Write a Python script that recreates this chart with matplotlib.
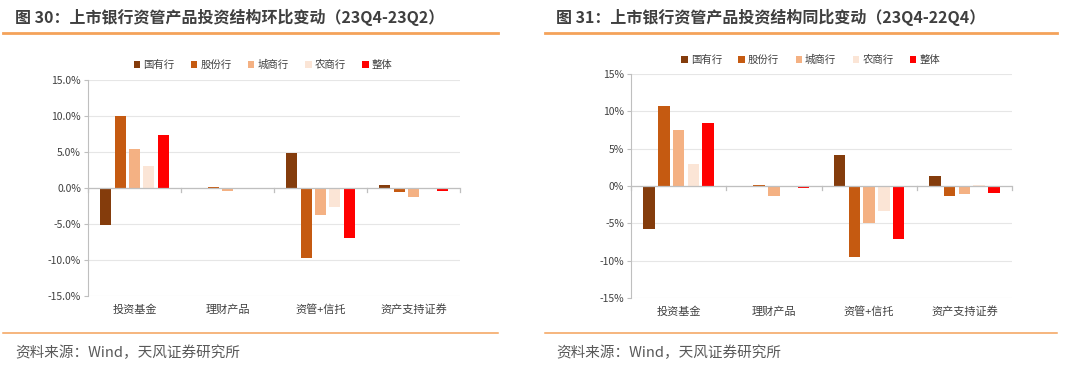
import numpy as np
import matplotlib.pyplot as plt
from matplotlib.ticker import FuncFormatter

plt.rcParams['font.family'] = ['Noto Sans CJK SC', 'DejaVu Sans']

# 数据
categories = ['投资基金', '理财产品', '资管+信托', '资产支持证券']
series = ['国有行', '股份行', '城商行', '农商行', '整体']
colors = ['#843C0C', '#C55A11', '#F4B183', '#FBE5D6', '#FF0000']

# 图30 环比 (23Q4-23Q2), %
qoq = {
    '国有行': [-5.1, 0.0, 4.8, 0.4],
    '股份行': [10.0, 0.1, -9.7, -0.5],
    '城商行': [5.4, -0.4, -3.7, -1.2],
    '农商行': [3.0, 0.0, -2.7, -0.2],
    '整体': [7.3, 0.0, -6.9, -0.4],
}
# 图31 同比 (23Q4-22Q4), %
yoy = {
    '国有行': [-5.7, 0.0, 4.2, 1.4],
    '股份行': [10.7, 0.2, -9.5, -1.3],
    '城商行': [7.5, -1.4, -5.0, -1.1],
    '农商行': [3.0, 0.0, -3.4, 0.2],
    '整体': [8.4, -0.3, -7.1, -1.0],
}

fig = plt.figure(figsize=(10.8, 3.72), dpi=100)

title_color = '#3F3F3F'
line_color = '#F4A25A'


def draw_panel(rect, data, fmt, legend_y, title, x0, x1, tx):
    ax = fig.add_axes(rect)
    x = np.arange(len(categories))
    step, w = 0.155, 0.12
    for i, s in enumerate(series):
        ax.bar(x + (i - 2) * step, data[s], width=w, color=colors[i], label=s, zorder=3)
    ax.set_xlim(-0.5, 3.5)
    ax.set_ylim(-15, 15)
    ax.set_yticks(np.arange(-15, 16, 5))
    ax.yaxis.set_major_formatter(FuncFormatter(fmt))
    ax.grid(axis='y', color='#E6E6E6', linewidth=0.8, zorder=0)
    for sp in ['top', 'right', 'bottom']:
        ax.spines[sp].set_visible(False)
    ax.spines['left'].set_color('#BFBFBF')
    ax.axhline(0, color='#BFBFBF', linewidth=0.9, zorder=4)
    # 类别分隔刻度
    for b in np.arange(-0.5, 4.0, 1.0):
        ax.plot([b, b], [0, -0.5], color='#BFBFBF', linewidth=0.9, zorder=4, clip_on=False)
    ax.tick_params(axis='y', length=3, color='#BFBFBF', labelsize=7.5, labelcolor='#404040', pad=2)
    ax.set_xticks(x)
    ax.set_xticklabels(categories)
    ax.tick_params(axis='x', length=0, labelsize=8, labelcolor='#404040', pad=6)
    cx = rect[0] + rect[2] / 2 - 0.01
    leg = ax.legend(loc='center', bbox_to_anchor=(cx, legend_y), bbox_transform=fig.transFigure,
                    ncol=5, frameon=False, fontsize=7.5, handlelength=0.6, handleheight=0.6,
                    handletextpad=0.3, columnspacing=1.6)
    for t in leg.get_texts():
        t.set_color('#404040')
    fig.text(tx, 1 - 17 / 372, title, fontsize=11.5, fontweight='bold', color=title_color,
             va='center', ha='left')
    fig.add_artist(plt.Line2D([x0, x1], [1 - 33 / 372, 1 - 33 / 372], color=line_color, linewidth=2))
    fig.add_artist(plt.Line2D([x0, x1], [1 - 333 / 372, 1 - 333 / 372], color=line_color, linewidth=1.1))
    fig.text(tx, 1 - 353 / 372, '资料来源：Wind，天风证券研究所', fontsize=10.5, color='#595959',
             va='center', ha='left')
    return ax


draw_panel([88 / 1080, 1 - 296 / 372, 372 / 1080, 216 / 372], qoq,
           lambda v, p: f'{v:.1f}%', 1 - 65 / 372,
           '图 30：上市银行资管产品投资结构环比变动（23Q4-23Q2）',
           3 / 1080, 498 / 1080, 15 / 1080)
draw_panel([631 / 1080, 1 - 298 / 372, 381 / 1080, 224 / 372], yoy,
           lambda v, p: f'{v:.0f}%', 1 - 60 / 372,
           '图 31：上市银行资管产品投资结构同比变动（23Q4-22Q4）',
           545 / 1080, 1057 / 1080, 556 / 1080)

fig.savefig('out.png', dpi=100)
